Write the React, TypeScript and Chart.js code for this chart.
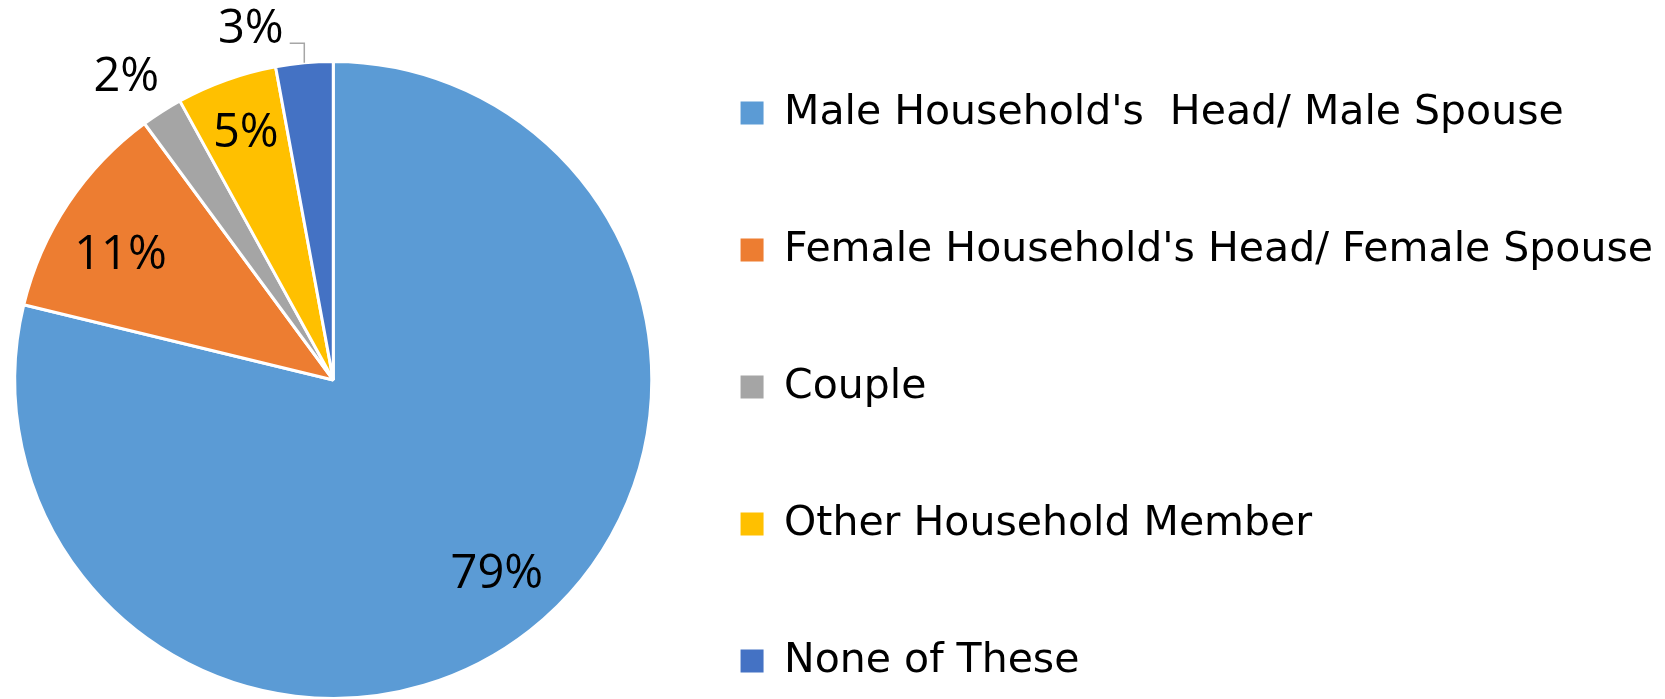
import React, { useEffect, useRef } from 'react';
import { Chart, registerables } from 'chart.js';

Chart.register(...registerables);

// ---- data ----
const categories = [
  "Male Household's  Head/ Male Spouse",
  "Female Household's Head/ Female Spouse",
  'Couple',
  'Other Household Member',
  'None of These',
];
const shares = [78.8, 11.1, 2.1, 5.1, 2.9];
const sliceColors = ['#5B9BD5', '#ED7D31', '#A5A5A5', '#FFC000', '#4472C4'];

// ---- label placement (style) ----
const labelRadius = [0.79, 0.78, 1.16, 0.83, 1.14];
const labelAngleShift = [-2.4, -2.6, -1.5, 0.3, -7.9];
const leaderLine = [false, false, false, false, true];

const LABEL_FONT = "'Open Sans', sans-serif";
const LEGEND_FONT = "'DejaVu Sans', sans-serif";
const LEGEND_SIZE = 41;
const LABEL_SIZE = 47;
const DIGIT_H = 0.714 * LABEL_SIZE;
const BOX = 23;
const LEGEND_PAD = 137 - LEGEND_SIZE;
const CANVAS_H = 840;
const CANVAS_TOP = -40;
const AREA_LEFT = LEGEND_PAD - 74;
const PIE_RADIUS = 318.5;

const pctLabels = {
  id: 'pctLabels',
  afterDatasetsDraw(chart: any) {
    const ctx = chart.ctx;
    const meta = chart.getDatasetMeta(0);
    ctx.save();
    ctx.font = `${LABEL_SIZE}px ${LABEL_FONT}`;
    ctx.fillStyle = '#000';
    ctx.textAlign = 'center';
    ctx.textBaseline = 'alphabetic';
    meta.data.forEach((el: any, i: number) => {
      const p = el.getProps(['x', 'y', 'startAngle', 'endAngle', 'outerRadius'], true);
      const baseMid = (p.startAngle + p.endAngle) / 2;
      const mid = baseMid + (labelAngleShift[i] * Math.PI) / 180;
      const r = p.outerRadius * labelRadius[i];
      const lx = p.x + Math.cos(mid) * r;
      const ly = p.y + Math.sin(mid) * r;
      const text = Math.round(shares[i]) + '%';
      const by = ly + DIGIT_H / 2;
      ctx.fillText(text, lx, by);
      if (leaderLine[i]) {
        const ex = p.x + Math.cos(baseMid) * p.outerRadius;
        const ey = p.y + Math.sin(baseMid) * p.outerRadius;
        const w = ctx.measureText(text).width;
        ctx.beginPath();
        ctx.strokeStyle = '#A6A6A6';
        ctx.lineWidth = 1.5;
        ctx.moveTo(lx + w / 2 + 6, by);
        ctx.lineTo(ex, by);
        ctx.lineTo(ex, ey);
        ctx.stroke();
      }
    });
    ctx.restore();
  },
};

export default function App() {
  const ref = useRef<HTMLCanvasElement>(null);

  useEffect(() => {
    const canvas = ref.current!;
    const m = document.createElement('canvas').getContext('2d')!;
    m.font = `${LEGEND_SIZE}px ${LEGEND_FONT}`;
    const maxText = Math.max(...categories.map((c) => m.measureText(c).width));
    const colWidth = BOX + LEGEND_SIZE / 2 + maxText;
    const width = Math.round(741 + colWidth + 10);
    canvas.width = width;
    canvas.height = CANVAS_H;
    canvas.style.width = width + 'px';
    canvas.style.height = CANVAS_H + 'px';

    const defaultGen = (Chart as any).overrides.pie.plugins.legend.labels.generateLabels;

    const chart = new Chart(canvas, {
      type: 'pie',
      data: {
        labels: categories,
        datasets: [
          {
            data: shares,
            backgroundColor: sliceColors,
            borderColor: '#FFFFFF',
            borderWidth: 3,
            clip: false as any,
          } as any,
        ],
      },
      options: {
        responsive: false,
        animation: false,
        radius: PIE_RADIUS,
        layout: { padding: { left: AREA_LEFT, top: 0, right: 0, bottom: 0 } },
        plugins: {
          tooltip: { enabled: false },
          legend: {
            position: 'right',
            align: 'center',
            maxWidth: 5000,
            title: {
              display: true,
              text: '',
              padding: { top: 2, bottom: 0 },
              font: { size: 10 },
            },
            labels: {
              boxWidth: BOX,
              boxHeight: BOX,
              padding: LEGEND_PAD,
              color: '#000000',
              font: { family: LEGEND_FONT, size: LEGEND_SIZE },
              generateLabels: (c: any) =>
                defaultGen(c).map((it: any) => ({ ...it, lineWidth: 0, strokeStyle: 'rgba(0,0,0,0)' })),
            },
          },
        },
      } as any,
      plugins: [pctLabels],
    });
    return () => chart.destroy();
  }, []);

  return (
    <div
      style={{
        position: 'fixed',
        left: 0,
        top: 0,
        width: 1665,
        height: 699,
        overflow: 'hidden',
        background: '#ffffff',
      }}
    >
      <canvas ref={ref} style={{ position: 'absolute', left: 0, top: CANVAS_TOP }} />
    </div>
  );
}
